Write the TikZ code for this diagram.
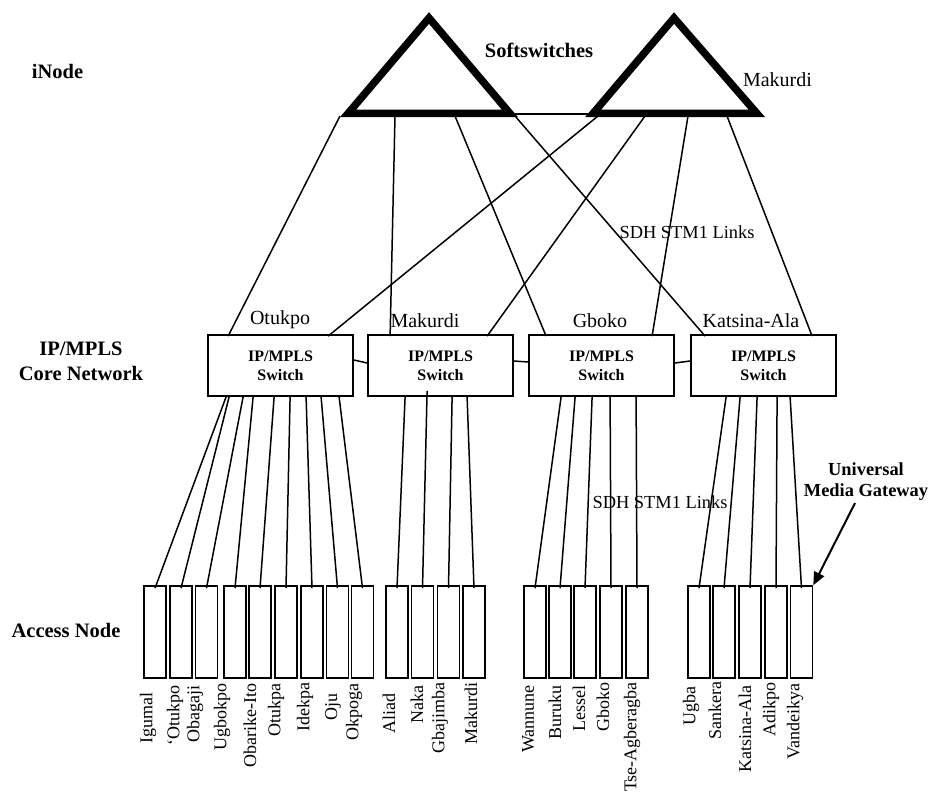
\documentclass[tikz,border=0pt]{standalone}
\usepackage{fontspec}
\setmainfont{Liberation Serif}
\usetikzlibrary{arrows.meta, positioning}
\tikzset{
  softsw/.style   = {line width=7.5pt, line join=miter},
  link/.style     = {line width=1.5pt},
  gwarrow/.style  = {-{Triangle[length=13pt, width=11pt]}, line width=2pt},
  swbox/.style    = {draw, line width=1.8pt, minimum width=145pt, minimum height=61pt,
                     inner sep=0pt, align=center,
                     font=\bfseries\fontsize{16}{19}\selectfont},
  anbox/.style    = {draw, line width=1.6pt, minimum width=22pt, minimum height=92pt,
                     inner sep=0pt},
  anlbl/.style    = {rotate=90, anchor=east, inner sep=0pt,
                     font=\fontsize{18}{20}\selectfont},
  lbl/.style      = {inner sep=0pt, font=\fontsize{20}{22}\selectfont},
  slbl/.style     = {inner sep=0pt, font=\fontsize{18.4}{21}\selectfont},
  blbl/.style     = {inner sep=0pt, align=center,
                     font=\bfseries\fontsize{20.5}{25}\selectfont},
}

\begin{document}
\begin{tikzpicture}[x=1pt, y=-1pt]
  \useasboundingbox (0,0) rectangle (929,794);

  % softswitches
  \draw[softsw] (348,113.5) -- (429,18) -- (510,113.5) -- cycle;
  \draw[softsw] (593,113.5) -- (674,18) -- (757,113.5) -- cycle;
  \coordinate (ssa-e) at (510,114);
  \coordinate (ssb-w) at (593,114);
  \draw[link] (ssa-e) -- (ssb-w);

  \coordinate (ssa1) at (340,116);
  \coordinate (ssa2) at (395,116);
  \coordinate (ssa3) at (455,116);
  \coordinate (ssa4) at (515,116);
  \coordinate (ssb1) at (598,116);
  \coordinate (ssb2) at (645,116);
  \coordinate (ssb3) at (688,116);
  \coordinate (ssb4) at (727,116);

  % labels
  \node[blbl] (inode) at (57.5,71) {iNode};
  \node[blbl] (softlbl) at (539,50) {Softswitches};
  \node[lbl] (mkdlbl) at (777.5,80) {Makurdi};
  \node[blbl] (corelbl) at (81,361) {IP/MPLS\\Core Network};
  \node[blbl] (acclbl) at (66,630) {Access Node};
  \node[slbl] (sdh1) at (687,232) {SDH STM1 Links};
  \node[slbl] (sdh2) at (660,502) {SDH STM1 Links};
  \node[blbl, font=\bfseries\fontsize{18.4}{21}\selectfont] (umg) at (866,482)
    {Universal\\Media Gateway};

  % core switches
  \node[swbox] (sw1) at (280.5,365.5) {IP/MPLS\\Switch};
  \node[swbox] (sw2) at (440.5,365.5) {IP/MPLS\\Switch};
  \node[swbox] (sw3) at (601.5,365.5) {IP/MPLS\\Switch};
  \node[swbox] (sw4) at (763.5,365.5) {IP/MPLS\\Switch};
  \node[lbl] (sw1lbl) at (280,320) {Otukpo};
  \node[lbl] (sw2lbl) at (425,321) {Makurdi};
  \node[lbl] (sw3lbl) at (600,321) {Gboko};
  \node[lbl] (sw4lbl) at (751,321) {Katsina-Ala};

  \draw[link] ([yshift=5.5pt]sw1.east) -- ([yshift=2.5pt]sw2.west);
  \draw[link] ([yshift=4.5pt]sw2.east) -- ([yshift=3.5pt]sw3.west);
  \draw[link] ([yshift=2.5pt]sw3.east) -- ([yshift=4.5pt]sw4.west);

  \draw[link] (ssa1) -- ([xshift=21pt, yshift=-2pt]sw1.north west);
  \draw[link] (ssa2) -- ([xshift=23pt, yshift=-2pt]sw2.north west);
  \draw[link] (ssa3) -- ([xshift=18pt, yshift=-2pt]sw3.north west);
  \draw[link] (ssa4) -- ([xshift=15pt, yshift=-2pt]sw4.north west);
  \draw[link] (ssb1) -- ([xshift=121pt, yshift=-2pt]sw1.north west);
  \draw[link] (ssb2) -- ([xshift=120pt, yshift=-2pt]sw2.north west);
  \draw[link] (ssb3) -- ([xshift=124pt, yshift=-2pt]sw3.north west);
  \draw[link] (ssb4) -- ([xshift=122pt, yshift=-2pt]sw4.north west);

  % access nodes
  \foreach \n/\x in {1/155, 2/181, 3/206.5, 4/235, 5/260, 6/286, 7/312, 8/337.5,
                     9/362.5, 10/397, 11/422.5, 12/448.5, 13/474, 14/535, 15/560,
                     16/585, 17/611, 18/637, 19/699, 20/724, 21/750, 22/776, 23/801.5}
    \node[anbox] (a\n) at (\x,632) {};

  \foreach \n/\x/\y/\t in {1/148/692/Igumal, 2/175/685/‘Otukpo, 3/195/685/Obagaji,
                           4/222/683/Ugbokpo, 5/250/683/Obarike-Ito, 6/276/683/Otukpa,
                           7/305/682/Idekpa, 8/333/693/Oju, 9/354/683/Okpoga,
                           10/389/693/Aliad, 11/417/685/Naka, 12/440/682/Gbajimba,
                           13/471/682/Makurdi, 14/528/685/Wannune, 15/555/685/Buruku,
                           16/579/685/Lessel, 17/603/682/Gboko, 18/632/682/Tse-Agberagba,
                           19/691/686/Ugba, 20/715/681/Sankera, 21/745/685/Katsina-Ala,
                           22/771/682/Adikpo, 23/795/683/Vandeikya}
    \node[anlbl] (t\n) at (\x,\y) {\t};

  \foreach \s/\dx/\dy/\a in {1/19/0/1, 1/22/0/2, 1/36/0/3, 1/46/0/4, 1/67/0/5,
                             1/83/0/6, 1/99/0/7, 1/114/0/8, 1/132/0/9,
                             2/38/0/10, 2/60/6/11, 2/85/0/12, 2/100/0/13,
                             3/33/0/14, 3/47/0/15, 3/64/0/16, 3/82/0/17, 3/108/0/18,
                             4/36/0/19, 4/50/0/20, 4/67/0/21, 4/87/0/22, 4/100/0/23}
    \draw[link] ([xshift=\dx pt, yshift=\dy pt]sw\s.south west) -- ([yshift=-3pt]a\a.north);

  \draw[gwarrow] ([xshift=-11pt, yshift=-2pt]umg.south) -- (a23.north east);
\end{tikzpicture}
\end{document}
